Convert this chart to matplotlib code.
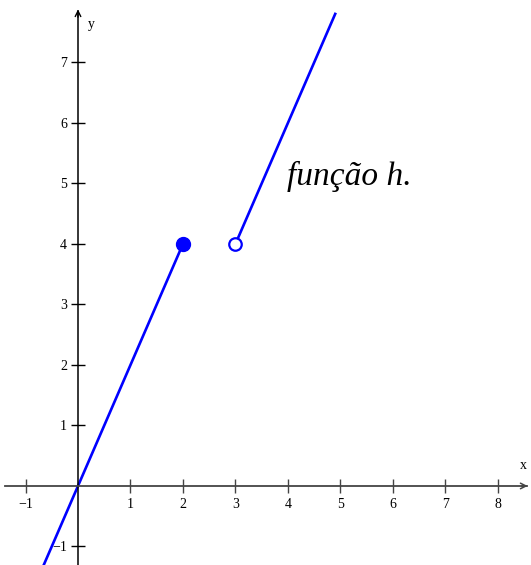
import numpy as np
import matplotlib.pyplot as plt

plt.rcParams['font.family'] = ['Liberation Serif', 'DejaVu Serif']

# h(x) = 2x for x <= 2, h(x) = 2x - 2 for x > 3
seg1_x = [-1.0, 2.0]
seg1_y = [-2.0, 4.0]
seg2_x = [3.0, 4.9]
seg2_y = [4.0, 7.8]
closed_pt = (2, 4)
open_pt = (3, 4)

xticks = [-1, 1, 2, 3, 4, 5, 6, 7, 8]
yticks = [-1, 1, 2, 3, 4, 5, 6, 7]

fig = plt.figure(figsize=(5.31, 5.65), dpi=100)
ax = fig.add_axes([0, 0, 1, 1])
ax.set_xlim(-1.486, 8.63)
ax.set_ylim(-1.306, 8.03)

blue = '#0000ff'
ax.plot(seg1_x, seg1_y, color=blue, lw=1.9, zorder=2)
ax.plot(seg2_x, seg2_y, color=blue, lw=1.9, zorder=2)
ax.plot(*closed_pt, 'o', ms=10, color=blue, zorder=3)
ax.plot(*open_pt, 'o', ms=9, mfc='white', mec=blue, mew=1.6, zorder=3)

# axes through the origin
for s in ['top', 'right']:
    ax.spines[s].set_visible(False)
ax.spines['left'].set_position(('data', 0))
ax.spines['bottom'].set_position(('data', 0))
ax.spines['bottom'].set_bounds(-1.39, 8.55)
ax.spines['left'].set_bounds(-1.306, 7.85)
ax.spines['bottom'].set_color('#444444')
ax.spines['bottom'].set_linewidth(1.3)
ax.spines['left'].set_linewidth(1.1)
ax.annotate('', xy=(8.62, 0), xytext=(8.4, 0),
            arrowprops=dict(arrowstyle='->', color='#444444', lw=1.1))
ax.annotate('', xy=(0, 7.92), xytext=(0, 7.7),
            arrowprops=dict(arrowstyle='->', color='black', lw=1.0))

ax.set_xticks(xticks)
ax.set_yticks(yticks)
ax.set_xticklabels([str(t).replace('-', '\u2212') for t in xticks])
ax.set_yticklabels([str(t).replace('-', '\u2212') for t in yticks])
ax.tick_params(axis='x', direction='inout', length=10, width=1, pad=4,
               labelsize=10, color='#444444')
ax.tick_params(axis='y', direction='inout', length=10, width=1, pad=3,
               labelsize=10)
for lab in ax.get_yticklabels():
    lab.set_bbox(dict(facecolor='white', edgecolor='none', pad=1))

ax.text(8.48, 0.33, 'x', fontsize=10, ha='center', va='center')
ax.text(0.25, 7.62, 'y', fontsize=10, ha='center', va='center')

ax.text(3.98, 4.97, 'função h.', fontsize=24, style='italic',
        ha='left', va='baseline')

fig.savefig('out.png', dpi=100)
